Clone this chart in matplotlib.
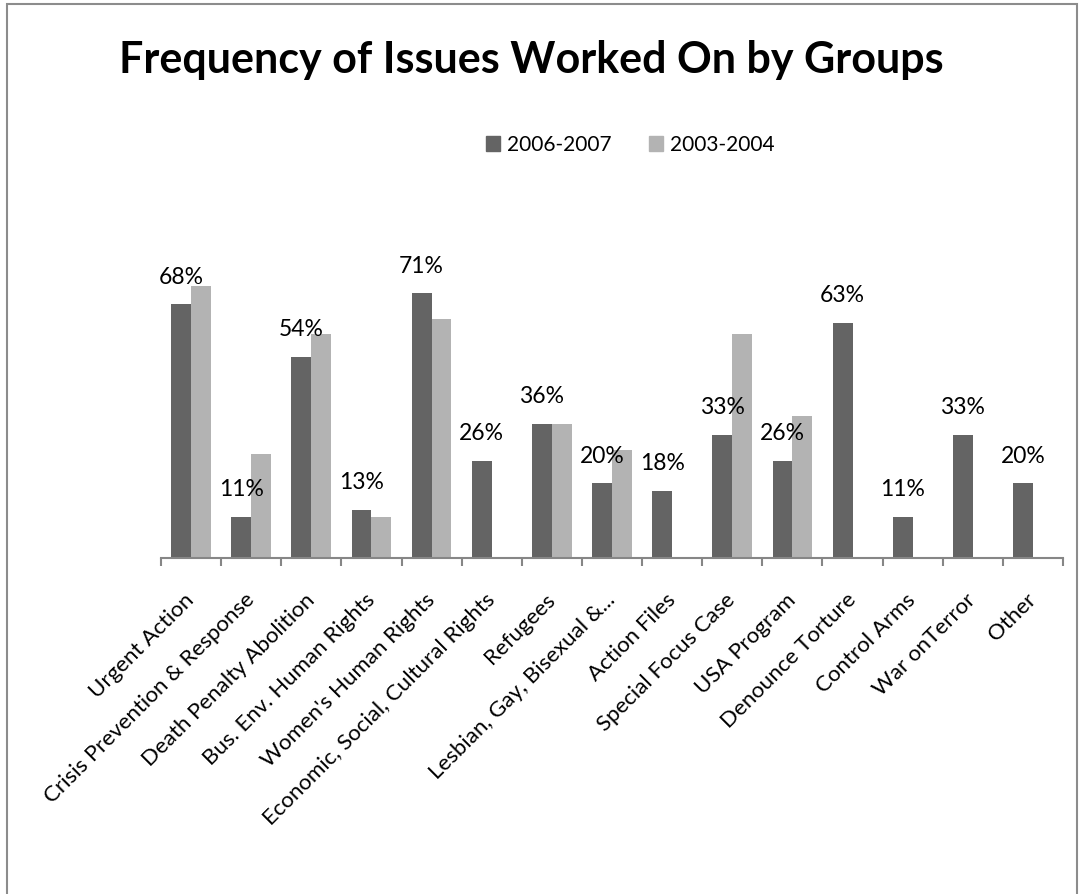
import matplotlib.pyplot as plt
from matplotlib.patches import Rectangle, Patch

categories = ['Urgent Action', 'Crisis Prevention & Response', 'Death Penalty Abolition',
              'Bus. Env. Human Rights', "Women's Human Rights", 'Economic, Social, Cultural Rights',
              'Refugees', 'Lesbian, Gay, Bisexual &...', 'Action Files', 'Special Focus Case',
              'USA Program', 'Denounce Torture', 'Control Arms', 'War onTerror', 'Other']
y2006 = [68, 11, 54, 13, 71, 26, 36, 20, 18, 33, 26, 63, 11, 33, 20]
y2003 = [73, 28, 60, 11, 64, None, 36, 29, None, 60, 38, None, None, None, None]

dark = '#646464'
light = '#b3b3b3'
plt.rcParams['font.family'] = ['Lato', 'DejaVu Sans']

fig = plt.figure(figsize=(10.83, 8.94), dpi=100)
fig.patches.append(Rectangle((7 / 1083, -0.1), 1070 / 1083, 1.1 - 4 / 894, transform=fig.transFigure,
                             fill=False, edgecolor='#8c8c8c', linewidth=1.5))
ax = fig.add_axes([161 / 1083, 1 - 558 / 894, 902 / 1083, 298.4 / 894])

w = 0.33
for i in range(len(categories)):
    ax.bar(i - w / 2, y2006[i], width=w, color=dark)
    if y2003[i] is not None:
        ax.bar(i + w / 2, y2003[i], width=w, color=light)
    ax.annotate(f'{y2006[i]}%', (i - w / 2, y2006[i]), xytext=(0, 12), textcoords='offset points',
                ha='center', va='bottom', fontsize=16.5)

ax.set_xlim(-0.5, len(categories) - 0.5)
ax.set_ylim(0, 80)
for s in ['top', 'left', 'right']:
    ax.spines[s].set_visible(False)
ax.spines['bottom'].set_color('#868686')
ax.spines['bottom'].set_linewidth(1.5)
ax.set_yticks([])
ax.set_xticks(range(len(categories)))
ax.set_xticklabels(categories, rotation=45, ha='right', va='center', rotation_mode='anchor', fontsize=16)
ax.tick_params(axis='x', which='major', length=0, pad=28)
ax.set_xticks([i - 0.5 for i in range(len(categories) + 1)], minor=True)
ax.tick_params(axis='x', which='minor', length=6, width=1.5, color='#868686')

fig.text(531 / 1083, 1 - 60 / 894, 'Frequency of Issues Worked On by Groups', ha='center', va='center',
         fontsize=31, fontweight='bold')

handles = [Patch(color=dark, label='2006-2007'), Patch(color=light, label='2003-2004')]
fig.legend(handles=handles, loc='center', bbox_to_anchor=(630 / 1083, 1 - 145 / 894), ncol=2,
           frameon=False, fontsize=15, handlelength=0.7, handleheight=0.7, handletextpad=0.3,
           columnspacing=1.8)

fig.savefig('out.png', dpi=100)
